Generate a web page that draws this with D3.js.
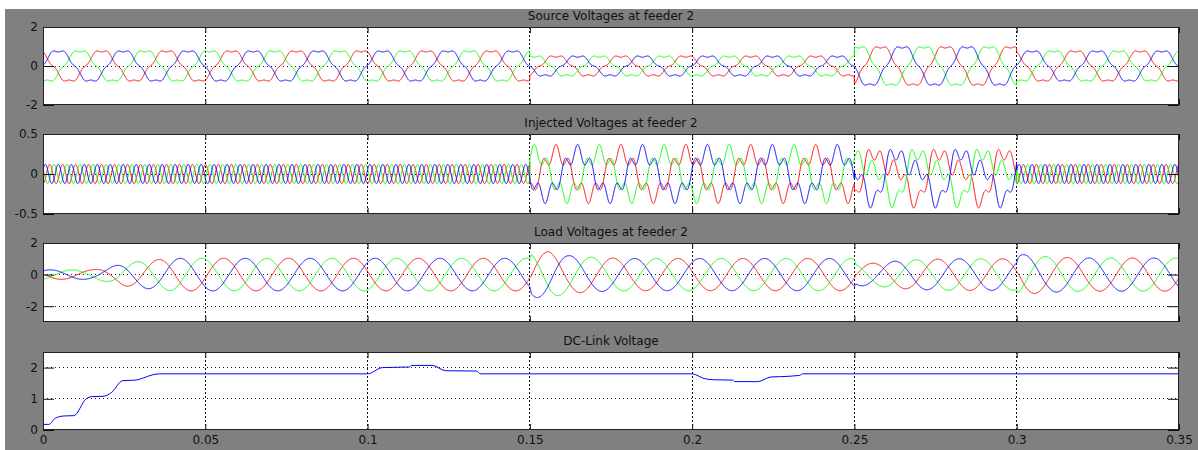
<!DOCTYPE html>
<html>
<head>
<meta charset="utf-8">
<script src="https://cdn.jsdelivr.net/npm/d3@7"></script>
<style>
  body { margin: 0; background: #fff; }
  svg text { font-family: "DejaVu Sans", sans-serif; font-size: 12px; fill: #111; }
</style>
</head>
<body>
<svg id="chart" width="1198" height="450"></svg>
<script>
// ---- values ----
const timeTicks = [0, 0.05, 0.1, 0.15, 0.2, 0.25, 0.3, 0.35]
const titles = ["Source Voltages at feeder 2", "Injected Voltages at feeder 2", "Load Voltages at feeder 2", "DC-Link Voltage"]
const yDomains = [[-2, 2], [-0.5, 0.5], [-3, 2], [0, 2.5]]
const yTicks = [[-2, 0, 2], [-0.5, 0, 0.5], [-2, 0, 2], [0, 1, 2]]

const phaseColors = ["#ff0000", "#00ff00", "#0000ff"]   // red, green, blue
// phase angle (deg) of each colour, from the peak times
const sourcePhase = [125, -115, 5]
const loadPhase = [168.6, -71.4, 48.6]

// sag 0.15-0.25, swell 0.25-0.3
const segBounds = [0, 0.15, 0.25, 0.3, 0.35]
const sourceFund = [0.8, 0.52, 1.02, 0.8]
const sourceH5 = [0.08, 0.07, 0.1, 0.08]
const injFund = [0, 0.27, 0.25, 0]
const injH2 = [0, 0, 0.12, 0]
const injH5 = [0.12, 0.1, 0.1, 0.12]

// first sample spikes at t=0
const sourceStart = [1.0, -1.6, 1.2]
const loadStart = [1.0, -2.1, 1.2]

// load voltage amplitude over time
const loadEnvT = [0, 0.015, 0.02, 0.025, 0.03, 0.04, 0.15, 0.1505, 0.156, 0.162, 0.17, 0.18, 0.25, 0.2505, 0.257, 0.263, 0.27, 0.28, 0.3, 0.3005, 0.305, 0.31, 0.32, 0.35]
const loadEnvA = [0.3, 0.3, 0.45, 0.7, 0.85, 1.03, 1.03, 1.45, 1.45, 1.2, 1.08, 1.02, 1.02, 0.7, 0.73, 0.86, 0.95, 1.0, 1.0, 1.3, 1.2, 1.12, 1.05, 1.05]

// DC-link voltage
const dcT = [0, 0.0002, 0.0018, 0.0038, 0.0065, 0.0095, 0.0133, 0.015, 0.0185, 0.0211, 0.0245, 0.0286, 0.0307, 0.0338, 0.036, 0.1, 0.1046, 0.1129, 0.1135, 0.1199, 0.1241, 0.1335, 0.1348, 0.2, 0.2037, 0.2066, 0.2125, 0.2131, 0.2202, 0.2243, 0.2272, 0.2331, 0.234, 0.35]
const dcV = [0, 0.18, 0.18, 0.38, 0.45, 0.46, 1.0, 1.07, 1.08, 1.2, 1.58, 1.6, 1.66, 1.77, 1.8, 1.8, 2.0, 2.02, 2.07, 2.07, 1.9, 1.89, 1.8, 1.8, 1.65, 1.61, 1.6, 1.55, 1.55, 1.7, 1.71, 1.75, 1.8, 1.8]

// ---- layout ----
const left = 43, right = 1179
const tops = [27, 134, 243, 352], bottoms = [105, 214, 322, 430]

const svg = d3.select("#chart")
svg.append("rect").attr("x", 5).attr("y", 9).attr("width", 1193).attr("height", 441).attr("fill", "#808080")

const x = d3.scaleLinear().domain([0, 0.35]).range([left, right])

// build the waveforms
const w = 2 * Math.PI * 50, rad = Math.PI / 180
const times = d3.range(0, 0.35 + 1e-9, 0.00004)
const seg = t => Math.min(d3.bisectRight(segBounds, t) - 1, 3)
const loadEnv = d3.scaleLinear().domain(loadEnvT).range(loadEnvA)

const sourceSeries = phaseColors.map((c, k) => times.map((t, i) => {
  const s = seg(t), a = w * t + sourcePhase[k] * rad
  return [t, i === 0 ? sourceStart[k] : sourceFund[s] * Math.sin(a) - sourceH5[s] * Math.sin(5 * a)]
}))
const injSeries = phaseColors.map((c, k) => times.map(t => {
  const s = seg(t), a = w * t + sourcePhase[k] * rad
  return [t, injFund[s] * Math.sin(a) + injH2[s] * Math.sin(2 * a + 0.6) + injH5[s] * Math.sin(5 * a)]
}))
const loadSeries = phaseColors.map((c, k) => times.map((t, i) => {
  const a = w * t + loadPhase[k] * rad
  return [t, i === 0 ? loadStart[k] : loadEnv(t) * Math.sin(a)]
}))
const dcSeries = [dcT.map((t, i) => [t, dcV[i]])]

const panels = [
  {series: sourceSeries, colors: phaseColors, curve: d3.curveLinear},
  {series: injSeries, colors: phaseColors, curve: d3.curveLinear},
  {series: loadSeries, colors: phaseColors, curve: d3.curveLinear},
  {series: dcSeries, colors: ["#0000ff"], curve: d3.curveMonotoneX}
]

panels.forEach((p, i) => {
  const y = d3.scaleLinear().domain(yDomains[i]).range([bottoms[i], tops[i]])
  const g = svg.append("g")

  g.append("clipPath").attr("id", "clip" + i)
    .append("rect").attr("x", left).attr("y", tops[i]).attr("width", right - left).attr("height", bottoms[i] - tops[i])

  g.append("rect")
    .attr("x", left).attr("y", tops[i]).attr("width", right - left).attr("height", bottoms[i] - tops[i])
    .attr("fill", "#fff")

  // dotted grid
  g.selectAll(".vgrid").data(timeTicks.slice(1, -1)).enter().append("line")
    .attr("x1", d => x(d)).attr("x2", d => x(d)).attr("y1", tops[i]).attr("y2", bottoms[i])
    .attr("stroke", "#111").attr("stroke-dasharray", "2,2").attr("shape-rendering", "crispEdges")
  g.selectAll(".hgrid").data(yTicks[i].filter(v => v > yDomains[i][0] && v < yDomains[i][1])).enter().append("line")
    .attr("x1", left).attr("x2", right).attr("y1", d => y(d)).attr("y2", d => y(d))
    .attr("stroke", "#222").attr("stroke-dasharray", "1,3").attr("shape-rendering", "crispEdges")

  const line = d3.line().x(d => x(d[0])).y(d => y(d[1])).curve(p.curve)
  g.append("g").attr("clip-path", `url(#clip${i})`)
    .selectAll("path").data(p.series).enter().append("path")
    .attr("d", line).attr("fill", "none")
    .attr("stroke", (d, k) => p.colors[k]).attr("stroke-width", 1).attr("stroke-linejoin", "round")

  // inward ticks on all four sides
  const fmt = d => String(d)
  g.append("g").attr("transform", `translate(${left},0)`).style("color", "#111")
    .call(d3.axisLeft(y).tickValues(yTicks[i]).tickSize(-11).tickPadding(5).tickFormat(fmt))
    .call(a => a.select(".domain").remove())
  g.append("g").attr("transform", `translate(${right},0)`).style("color", "#111")
    .call(d3.axisRight(y).tickValues(yTicks[i]).tickSize(-11).tickFormat(""))
    .call(a => a.select(".domain").remove())
  g.append("g").attr("transform", `translate(0,${tops[i]})`).style("color", "#111")
    .call(d3.axisTop(x).tickValues(timeTicks).tickSize(-6).tickFormat(""))
    .call(a => a.select(".domain").remove())
  g.append("g").attr("transform", `translate(0,${bottoms[i]})`).style("color", "#111")
    .call(d3.axisBottom(x).tickValues(timeTicks).tickSize(-6).tickPadding(5).tickFormat(i === 3 ? fmt : ""))
    .call(a => a.select(".domain").remove())

  g.append("rect")
    .attr("x", left + 0.5).attr("y", tops[i] + 0.5).attr("width", right - left - 1).attr("height", bottoms[i] - tops[i] - 1)
    .attr("fill", "none").attr("stroke", "#222")

  g.append("text")
    .attr("x", (left + right) / 2).attr("y", tops[i] - 7)
    .attr("text-anchor", "middle")
    .text(titles[i])
})
</script>
</body>
</html>
